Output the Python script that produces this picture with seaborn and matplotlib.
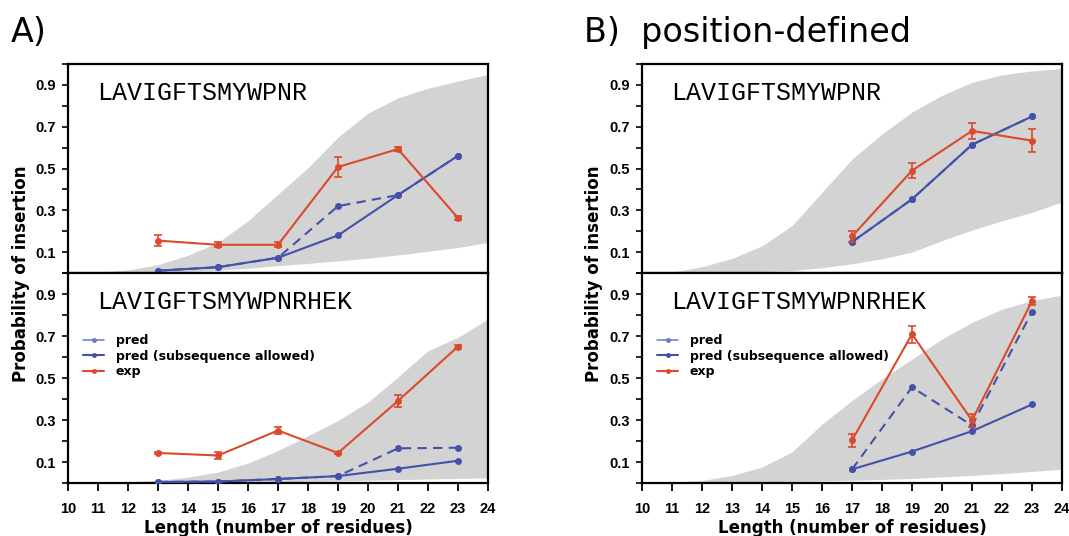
import numpy as np
import pandas as pd
import matplotlib
matplotlib.use("Agg")
import matplotlib.pyplot as plt
from matplotlib.lines import Line2D
import seaborn as sns

# ---------------- data ----------------
band_x = [10.5, 11, 12, 13, 14, 15, 16, 17, 18, 19, 20, 21, 22, 23, 24]

# Panel A, top (LAVIGFTSMYWPNR)
a_top_len = [13, 15, 17, 19, 21, 23]
a_top_exp = [0.155, 0.135, 0.135, 0.507, 0.593, 0.263]
a_top_err = [0.025, 0.012, 0.012, 0.046, 0.010, 0.008]
a_top_pred = [0.011, 0.028, 0.073, 0.180, 0.373, 0.561]
a_top_sub = [0.011, 0.028, 0.073, 0.320, 0.373, 0.561]
a_top_upper = [0.0, 0.004, 0.015, 0.040, 0.085, 0.146, 0.250, 0.377, 0.504, 0.650, 0.765, 0.838, 0.884, 0.918, 0.950]
a_top_lower = [0.0, 0.001, 0.003, 0.005, 0.009, 0.014, 0.023, 0.035, 0.046, 0.058, 0.071, 0.086, 0.104, 0.122, 0.146]

# Panel A, bottom (LAVIGFTSMYWPNRHEK)
a_bot_len = [13, 15, 17, 19, 21, 23]
a_bot_exp = [0.143, 0.131, 0.250, 0.143, 0.391, 0.650]
a_bot_err = [0.006, 0.015, 0.015, 0.005, 0.030, 0.006]
a_bot_pred = [0.005, 0.007, 0.019, 0.033, 0.068, 0.106]
a_bot_sub = [0.005, 0.007, 0.019, 0.033, 0.165, 0.168]
a_bot_upper = [0.0, 0.002, 0.005, 0.012, 0.028, 0.052, 0.095, 0.155, 0.225, 0.298, 0.385, 0.505, 0.630, 0.694, 0.781]
a_bot_lower = [0.0, 0.001, 0.002, 0.002, 0.003, 0.003, 0.005, 0.006, 0.008, 0.010, 0.013, 0.016, 0.019, 0.022, 0.024]

# Panel B, top
b_top_len = [17, 19, 21, 23]
b_top_exp = [0.175, 0.490, 0.680, 0.633]
b_top_err = [0.025, 0.036, 0.040, 0.056]
b_top_pred = [0.148, 0.353, 0.614, 0.749]
b_top_sub = [0.148, 0.353, 0.614, 0.749]
b_top_upper = [0.0, 0.004, 0.030, 0.070, 0.130, 0.227, 0.386, 0.545, 0.665, 0.770, 0.850, 0.912, 0.948, 0.967, 0.978]
b_top_lower = [0.0, 0.001, 0.002, 0.004, 0.007, 0.012, 0.025, 0.044, 0.068, 0.100, 0.155, 0.205, 0.250, 0.290, 0.340]

# Panel B, bottom
b_bot_len = [17, 19, 21, 23]
b_bot_exp = [0.203, 0.709, 0.298, 0.866]
b_bot_err = [0.030, 0.041, 0.030, 0.020]
b_bot_pred = [0.065, 0.150, 0.247, 0.374]
b_bot_sub = [0.065, 0.456, 0.274, 0.815]
b_bot_upper = [0.0, 0.003, 0.012, 0.036, 0.076, 0.148, 0.280, 0.393, 0.496, 0.590, 0.686, 0.765, 0.828, 0.868, 0.895]
b_bot_lower = [0.0, 0.001, 0.002, 0.004, 0.006, 0.008, 0.010, 0.013, 0.017, 0.022, 0.029, 0.036, 0.045, 0.055, 0.066]

seq_short = "LAVIGFTSMYWPNR"
seq_long = "LAVIGFTSMYWPNRHEK"
x_ticks = list(range(10, 25))
y_major = [0.1, 0.3, 0.5, 0.7, 0.9]
y_minor = [0.0, 0.2, 0.4, 0.6, 0.8, 1.0]
legend_labels = ["pred", "pred (subsequence allowed)", "exp"]

# ---------------- style ----------------
sns.set_theme(style="ticks")
plt.rcParams["font.family"] = ["DejaVu Sans"]
plt.rcParams["text.color"] = "black"
plt.rcParams["axes.labelcolor"] = "black"
plt.rcParams["xtick.color"] = "black"
plt.rcParams["ytick.color"] = "black"

BLUE = "#4352A8"
RED = "#DA4A2B"
GRAY = "#D3D3D3"

fig = plt.figure(figsize=(10.69, 5.36), dpi=100)

W = 420 / 1069
H_TOP = 209 / 536
positions = {
    "a_top": [68 / 1069, 1 - 273 / 536, W, H_TOP],
    "a_bot": [68 / 1069, 1 - 483 / 536, W, 210 / 536],
    "b_top": [642 / 1069, 1 - 273 / 536, W, H_TOP],
    "b_bot": [642 / 1069, 1 - 483 / 536, W, 210 / 536],
}

panels = {
    "a_top": (a_top_len, a_top_exp, a_top_err, a_top_pred, a_top_sub, a_top_upper, a_top_lower, seq_short, False),
    "a_bot": (a_bot_len, a_bot_exp, a_bot_err, a_bot_pred, a_bot_sub, a_bot_upper, a_bot_lower, seq_long, True),
    "b_top": (b_top_len, b_top_exp, b_top_err, b_top_pred, b_top_sub, b_top_upper, b_top_lower, seq_short, False),
    "b_bot": (b_bot_len, b_bot_exp, b_bot_err, b_bot_pred, b_bot_sub, b_bot_upper, b_bot_lower, seq_long, True),
}

tick_font = {"family": "Liberation Sans", "weight": "bold", "size": 10.5}

for key, (lens, exp, err, pred, sub, upper, lower, seq, is_bottom) in panels.items():
    ax = fig.add_axes(positions[key])
    ax.set_facecolor("white")
    ax.fill_between(band_x, lower, upper, color=GRAY, linewidth=0, zorder=1)

    df = pd.DataFrame({"length": lens, "exp": exp, "pred": pred, "sub": sub})
    sns.lineplot(data=df, x="length", y="sub", ax=ax, color=BLUE, linestyle=(0, (4.5, 3)),
                 linewidth=1.5, marker="o", markersize=5, markeredgewidth=0, zorder=3, legend=False)
    sns.lineplot(data=df, x="length", y="pred", ax=ax, color=BLUE, linewidth=1.5,
                 marker="o", markersize=5, markeredgewidth=0, zorder=4, legend=False)
    sns.lineplot(data=df, x="length", y="exp", ax=ax, color=RED, linewidth=1.5,
                 marker="o", markersize=5, markeredgewidth=0, zorder=5, legend=False)
    ax.errorbar(lens, exp, yerr=err, fmt="none", ecolor=RED, elinewidth=1.2,
                capsize=3, capthick=1.2, zorder=6)

    ax.text(10.97, 0.83, seq, family="Liberation Mono", fontsize=18, va="baseline",
            ha="left", color="black", zorder=7)

    ax.set_xlim(10, 24)
    ax.set_ylim(0, 1.0)
    ax.set_xticks(x_ticks)
    ax.set_yticks(y_major)
    ax.set_yticks(y_minor, minor=True)
    ax.set_yticklabels([f"{v:.1f}" for v in y_major], fontdict=tick_font)
    ax.set_ylabel("")
    ax.tick_params(axis="y", which="both", direction="out", length=4, width=1.2,
                   pad=5, color="black", labelcolor="black")
    ax.tick_params(axis="x", which="both", direction="out", length=6, width=1.3,
                   pad=7.5, color="black", labelcolor="black")
    for sp in ax.spines.values():
        sp.set_visible(True)
        sp.set_linewidth(1.6)
        sp.set_color("black")
    if is_bottom:
        ax.set_xticklabels([str(v) for v in x_ticks], fontdict=tick_font)
        ax.set_xlabel("Length (number of residues)", fontsize=12, fontweight="bold",
                      labelpad=2, color="black")
        handles = [
            Line2D([], [], color="#6A78C0", linewidth=1.1, marker="o", markersize=2.5),
            Line2D([], [], color=BLUE, linewidth=1.5, marker="o", markersize=2.5),
            Line2D([], [], color=RED, linewidth=1.5, marker="o", markersize=2.5),
        ]
        ax.legend(handles, legend_labels, loc="upper left", bbox_to_anchor=(0.015, 0.75),
                  frameon=False, handlelength=1.7, handletextpad=0.9, labelspacing=0.2,
                  borderpad=0.2, labelcolor="black",
                  prop={"family": "DejaVu Sans", "weight": "bold", "size": 9})
    else:
        ax.tick_params(axis="x", labelbottom=False)
        ax.set_xlabel("")

fig.text(0.0195, 0.49, "Probability of insertion", rotation=90, ha="center", va="center",
         fontsize=12, fontweight="bold", color="black")
fig.text(0.556, 0.49, "Probability of insertion", rotation=90, ha="center", va="center",
         fontsize=12, fontweight="bold", color="black")

fig.text(11 / 1069, 1 - 42 / 536, "A)", fontsize=24, va="baseline", ha="left", color="black")
fig.text(584 / 1069, 1 - 42 / 536, "B)  position-defined", fontsize=24, va="baseline",
         ha="left", color="black")

fig.savefig("out.png", dpi=100, facecolor="white")
